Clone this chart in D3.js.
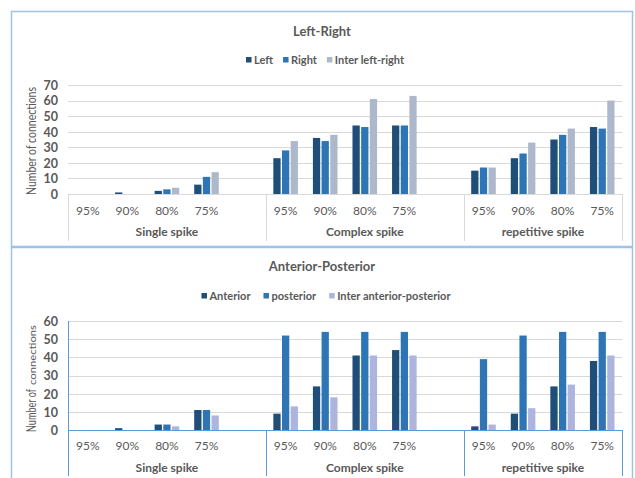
<!DOCTYPE html>
<html>
<head>
<meta charset="utf-8">
<script src="https://cdn.jsdelivr.net/npm/d3@7"></script>
<style>
  html, body { margin: 0; padding: 0; background: #ffffff; }
  svg { display: block; font-family: Lato, "Open Sans", sans-serif; }
</style>
</head>
<body>
<svg id="chart" width="635" height="478"></svg>
<script>
// Thresholds within each spike type, and the spike types themselves
const thresholds = ["95%", "90%", "80%", "75%"];
const spikeGroups = ["Single spike", "Complex spike", "repetitive spike"];

// Left-right connections (4 thresholds per spike type, in group order)
const leftVals  = [0, 1, 2, 6,   23, 36, 44, 44,   15, 23, 35, 43];
const rightVals = [0, 0, 3, 11,  28, 34, 43, 44,   17, 26, 38, 42];
const interLR   = [0, 0, 4, 14,  34, 38, 61, 63,   17, 33, 42, 60];

// Anterior-posterior connections
const anteriorVals  = [0, 1, 3, 11,  9, 24, 41, 44,   2, 9, 24, 38];
const posteriorVals = [0, 0, 3, 11,  52, 54, 54, 54,  39, 52, 54, 54];
const interAP       = [0, 0, 2, 8,   13, 18, 41, 41,  3, 12, 25, 41];

const ticksLR = [0, 10, 20, 30, 40, 50, 60, 70];
const ticksAP = [0, 10, 20, 30, 40, 50, 60];

const seriesLR = ["Left", "Right", "Inter left-right"];
const seriesAP = ["Anterior", "posterior", "Inter anterior-posterior"];

const svg = d3.select("#chart");
const textColor = "#595959";

// Each spike type takes 4 slots plus one empty slot after it (except the last)
const slotsPerGroup = 5;
const slotCount = spikeGroups.length * slotsPerGroup - 1;

function panel(cfg) {
  const g = svg.append("g");

  // panel frame
  g.append("rect")
    .attr("x", 11.5).attr("y", cfg.frameTop + 0.5)
    .attr("width", 621).attr("height", cfg.frameHeight)
    .attr("fill", "#ffffff")
    .attr("stroke", "#9dc3e6").attr("stroke-width", 1.5);

  // title
  g.append("text")
    .attr("x", 322).attr("y", cfg.titleY)
    .attr("text-anchor", "middle")
    .attr("font-size", 13).attr("font-weight", 700)
    .attr("fill", textColor)
    .text(cfg.title);

  const x0 = d3.scaleBand().domain(d3.range(slotCount)).range([68, 622]).padding(0);
  const bw = x0.bandwidth();
  const groupW = 24.6;
  const x1 = d3.scaleBand().domain(d3.range(3))
    .range([(bw - groupW) / 2, (bw + groupW) / 2]).paddingInner(0.16);

  const y = d3.scaleLinear().domain([0, cfg.yMax]).range([cfg.y0, cfg.yTop]);

  // gridlines
  g.append("g").selectAll("line")
    .data(cfg.ticks.slice(1))
    .join("line")
    .attr("x1", 68).attr("x2", 622)
    .attr("y1", d => Math.round(y(d)) + 0.5).attr("y2", d => Math.round(y(d)) + 0.5)
    .attr("stroke", "#d9d9d9").attr("stroke-width", 1);

  // y axis tick labels
  const yAxis = d3.axisLeft(y).tickValues(cfg.ticks).tickSize(0).tickPadding(0).tickFormat(d3.format("d"));
  const ya = g.append("g").attr("transform", "translate(58,0)").call(yAxis);
  ya.select(".domain").remove();
  ya.selectAll("text")
    .attr("font-family", "Lato, 'Open Sans', sans-serif")
    .attr("font-size", 12.5).attr("font-weight", 700)
    .attr("fill", textColor).attr("dy", "0.35em");

  // bars
  const series = cfg.values.map((vals, si) => ({ si, vals }));
  const slotOf = i => Math.floor(i / 4) * slotsPerGroup + (i % 4);
  series.forEach(s => {
    g.append("g").selectAll("rect")
      .data(s.vals.map((v, i) => ({ v, slot: slotOf(i) })))
      .join("rect")
      .attr("x", d => x0(d.slot) + x1(s.si))
      .attr("width", x1.bandwidth())
      .attr("y", d => y(d.v))
      .attr("height", d => cfg.y0 - y(d.v))
      .attr("fill", cfg.colors[s.si]);
  });

  // category axis: baseline, group separators, labels
  const axisG = g.append("g");
  axisG.append("line")
    .attr("x1", 68).attr("x2", 622)
    .attr("y1", cfg.y0 + 0.5).attr("y2", cfg.y0 + 0.5)
    .attr("stroke", cfg.axisColor).attr("stroke-width", 1);
  const seps = [68, x0(slotsPerGroup), x0(2 * slotsPerGroup), 622];
  axisG.selectAll("line.sep")
    .data(seps)
    .join("line").attr("class", "sep")
    .attr("x1", d => Math.round(d) + 0.5).attr("x2", d => Math.round(d) + 0.5)
    .attr("y1", (d, i) => (i === 0 && cfg.yAxisLine) ? cfg.yTop : cfg.y0)
    .attr("y2", cfg.axisBottom)
    .attr("stroke", cfg.axisColor).attr("stroke-width", 1);

  const catLabels = [];
  spikeGroups.forEach((grp, gi) => {
    thresholds.forEach((t, ti) => catLabels.push({ t, slot: gi * slotsPerGroup + ti }));
  });
  axisG.selectAll("text.cat")
    .data(catLabels)
    .join("text").attr("class", "cat")
    .attr("x", d => x0(d.slot) + bw / 2)
    .attr("y", cfg.catY)
    .attr("text-anchor", "middle")
    .attr("font-size", 12).attr("fill", textColor)
    .text(d => d.t);

  axisG.selectAll("text.grp")
    .data(spikeGroups)
    .join("text").attr("class", "grp")
    .attr("x", (d, i) => (seps[i] + seps[i + 1]) / 2)
    .attr("y", cfg.grpY)
    .attr("text-anchor", "middle")
    .attr("font-size", 12).attr("font-weight", 700)
    .attr("fill", textColor)
    .text(d => d);

  // legend
  const leg = g.append("g");
  let lx = 0;
  cfg.seriesNames.forEach((name, i) => {
    const it = leg.append("g").attr("transform", `translate(${lx},0)`);
    it.append("rect").attr("x", 0).attr("y", -3).attr("width", 5.5).attr("height", 5.5).attr("fill", cfg.colors[i]);
    const t = it.append("text").attr("x", 8).attr("y", 0).attr("dy", "0.35em")
      .attr("font-size", 11).attr("font-weight", 700).attr("fill", textColor).text(name);
    lx += 8 + t.node().getComputedTextLength() + cfg.legendGap;
  });
  const legW = lx - cfg.legendGap;
  leg.attr("transform", `translate(${cfg.legendCx - legW / 2},${cfg.legendY})`);

  // y axis title
  if (cfg.smallSuffix) {
    g.append("text")
      .attr("transform", `translate(36,${cfg.y0 + 2}) rotate(-90)`)
      .attr("text-anchor", "start")
      .attr("font-size", 12.5).attr("fill", textColor)
      .attr("textLength", 43).attr("lengthAdjust", "spacingAndGlyphs")
      .text("Number of");
    g.append("text")
      .attr("transform", `translate(36,${cfg.y0 - 45}) rotate(-90)`)
      .attr("text-anchor", "start")
      .attr("font-size", 8.5).attr("fill", textColor)
      .attr("textLength", 60).attr("lengthAdjust", "spacingAndGlyphs")
      .text("connections");
  } else {
    g.append("text")
      .attr("transform", `translate(36,${cfg.yTitleCy}) rotate(-90)`)
      .attr("text-anchor", "middle")
      .attr("font-size", 12.5).attr("fill", textColor)
      .attr("textLength", 108).attr("lengthAdjust", "spacingAndGlyphs")
      .text("Number of connections");
  }
}

panel({
  frameTop: 11, frameHeight: 235,
  title: "Left-Right", titleY: 36,
  legendY: 60, legendCx: 325, legendGap: 10,
  seriesNames: seriesLR,
  colors: ["#1f4e79", "#2e75b6", "#adb9ca"],
  values: [leftVals, rightVals, interLR],
  yMax: 70, ticks: ticksLR, y0: 194, yTop: 85,
  axisColor: "#d9d9d9", yAxisLine: false, axisBottom: 241,
  catY: 215, grpY: 236,
  yTitleCy: 141, smallSuffix: false
});

panel({
  frameTop: 247, frameHeight: 240,
  title: "Anterior-Posterior", titleY: 271,
  legendY: 296, legendCx: 326, legendGap: 13,
  seriesNames: seriesAP,
  colors: ["#1f4e79", "#2e75b6", "#adb5df"],
  values: [anteriorVals, posteriorVals, interAP],
  yMax: 60, ticks: ticksAP, y0: 430, yTop: 321,
  axisColor: "#5b9bd5", yAxisLine: true, axisBottom: 476,
  catY: 450, grpY: 472,
  yTitleCy: 377, smallSuffix: true
});
</script>
</body>
</html>
